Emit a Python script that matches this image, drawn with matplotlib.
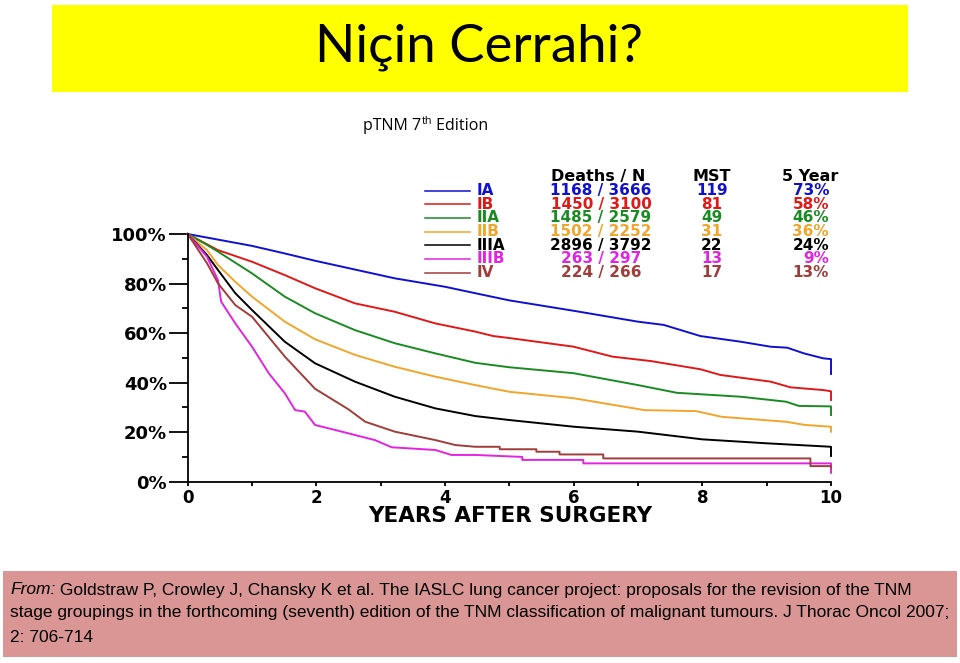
import numpy as np
import matplotlib.pyplot as plt
from matplotlib import font_manager
from matplotlib.patches import Rectangle
from matplotlib.lines import Line2D

W, H = 960, 663

# survival curves (years, % surviving)
ia_t = [0, 0.5, 1, 1.5, 1.98, 3.22, 4, 4.47, 5, 6, 7, 7.4, 7.97, 8.6, 9.06, 9.32, 9.58, 9.88, 10, 10]
ia_s = [100, 97.6, 95.2, 92.2, 89.2, 82.1, 78.7, 76.1, 73.2, 69.0, 64.6, 63.3, 58.8, 56.5, 54.5, 54.1, 51.8, 49.8, 49.5, 43.5]

ib_t = [0, 0.47, 1, 1.51, 1.98, 2.6, 3.22, 3.85, 4.47, 4.75, 5, 6, 6.6, 7.2, 7.97, 8.28, 9.06, 9.37, 9.88, 10, 10]
ib_s = [100, 93.5, 88.8, 83.4, 78.1, 72.0, 68.6, 63.9, 60.6, 58.8, 58, 54.5, 50.5, 48.7, 45.4, 43.1, 40.4, 38.1, 37, 36.5, 33]

iia_t = [0, 0.3, 0.47, 1, 1.51, 1.98, 2.6, 3.22, 3.85, 4.47, 5, 6, 7, 7.6, 8.6, 9.3, 9.5, 10, 10]
iia_s = [100, 95.6, 92.9, 84.1, 74.7, 68.0, 61.2, 55.9, 51.8, 48.0, 46.2, 43.8, 39, 35.9, 34.3, 32.3, 30.6, 30.4, 26.9]

iib_t = [0, 0.3, 0.47, 0.74, 1, 1.51, 1.98, 2.6, 3.22, 3.85, 4.47, 5, 6, 7.1, 7.9, 8.3, 9.3, 9.6, 10, 10]
iib_s = [100, 93.5, 87.5, 80.7, 74.7, 64.6, 57.5, 51.2, 46.4, 42.4, 39.0, 36.3, 33.7, 28.9, 28.5, 26.2, 24.2, 22.9, 22.2, 20.2]

iiia_t = [0, 0.3, 0.47, 0.74, 1, 1.51, 1.98, 2.6, 3.22, 3.85, 4.47, 5, 6, 7, 8, 9, 10, 10]
iiia_s = [100, 91.5, 85.5, 76.1, 69.3, 56.5, 47.8, 40.4, 34.3, 29.6, 26.5, 24.9, 22.2, 20.2, 17.1, 15.5, 14.1, 10.4]

iiib_t = [0, 0.3, 0.47, 0.52, 0.74, 1, 1.26, 1.51, 1.67, 1.82, 1.98, 2.29, 2.91, 3.17, 3.85, 4.1, 4.47,
          5.2, 5.2, 6.15, 6.15, 10, 10]
iiib_s = [100, 90.8, 81.4, 72.7, 63.9, 54.5, 43.8, 35.7, 28.9, 28.3, 22.9, 20.9, 16.8, 13.9, 12.8, 10.8, 10.8,
          10.0, 8.8, 8.8, 7.4, 7.4, 3.6]

iv_t = [0, 0.3, 0.47, 0.74, 1, 1.51, 1.98, 2.5, 2.76, 3.22, 3.85, 4.16, 4.47, 4.85, 4.85, 5.42, 5.42,
        5.78, 5.78, 6.46, 6.46, 9.68, 9.68, 10, 10]
iv_s = [100, 88.2, 80.1, 71.3, 66.6, 50.5, 37.5, 29.2, 24.2, 20.2, 16.8, 14.8, 14.1, 14.1, 13.1, 13.1, 12.1,
        12.1, 11.0, 11.0, 9.4, 9.4, 6.3, 6.3, 5.8]

stages = ['IA', 'IB', 'IIA', 'IIB', 'IIIA', 'IIIB', 'IV']
deaths_n = ['1168 / 3666', '1450 / 3100', '1485 / 2579', '1502 / 2252', '2896 / 3792', '263 / 297', '224 / 266']
mst = ['119', '81', '49', '31', '22', '13', '17']
five_year = ['73%', '58%', '46%', '36%', '24%', '9%', '13%']
colors = ['#1010d0', '#e01818', '#1a8a22', '#f2a52a', '#000000', '#e224e2', '#a23c3a']
curves = [(ia_t, ia_s), (ib_t, ib_s), (iia_t, iia_s), (iib_t, iib_s),
          (iiia_t, iiia_s), (iiib_t, iiib_s), (iv_t, iv_s)]

footer1 = ' Goldstraw P, Crowley J, Chansky K et al. The IASLC lung cancer project: proposals for the revision of the TNM'
footer2 = 'stage groupings in the forthcoming (seventh) edition of the TNM classification of malignant tumours. J Thorac Oncol 2007;'
footer3 = '2: 706-714'


def fx(x):
    return x / W


def fy(y):
    return 1 - y / H


fig = plt.figure(figsize=(9.6, 6.63), dpi=100)
fig.patch.set_facecolor('white')
r = fig.canvas.get_renderer()

# yellow title banner
fig.patches.append(Rectangle((fx(52), fy(92)), fx(908) - fx(52), fy(5) - fy(92),
                             transform=fig.transFigure, facecolor='#ffff00', edgecolor='none'))
fig.text(fx(479), fy(47), 'Niçin Cerrahi?', fontsize=38, family='Lato', ha='center', va='center')

# subtitle with superscript
t1 = fig.text(fx(363), fy(126), 'pTNM 7', fontsize=11.5, family='Open Sans', ha='left', va='center')
bb = t1.get_window_extent(r)
t2 = fig.text(bb.x1 / W + 0.0005, fy(122), 'th', fontsize=7.8, family='Open Sans', ha='left', va='center')
bb2 = t2.get_window_extent(r)
fig.text(bb2.x1 / W, fy(126), ' Edition', fontsize=11.5, family='Open Sans', ha='left', va='center')

# survival plot
ax = fig.add_axes([fx(187.7), fy(481.7), fx(831) - fx(187.7), fy(234) - fy(481.7)])
for (t, s), c in zip(curves, colors):
    ax.plot(t, s, color=c, lw=1.4, clip_on=False)

ax.set_xlim(0, 10)
ax.set_ylim(0, 100)
ax.spines['top'].set_visible(False)
ax.spines['right'].set_visible(False)
ax.spines['left'].set_linewidth(1.3)
ax.spines['bottom'].set_linewidth(1.3)
ax.set_xticks(np.arange(0, 11, 2))
ax.set_xticks(np.arange(0, 11, 1), minor=True)
ax.set_yticks(np.arange(0, 101, 20))
ax.set_yticks(np.arange(0, 101, 10), minor=True)
ax.set_yticklabels(['%d%%' % v for v in range(0, 101, 20)])
ax.tick_params(axis='y', which='major', length=14, width=1.3, pad=1)
ax.tick_params(axis='y', which='minor', length=4.5, width=1.3)
ax.tick_params(axis='x', which='both', length=3, width=1.3, pad=2)
for lab in ax.get_xticklabels():
    lab.set_fontfamily('DejaVu Sans')
    lab.set_fontweight('bold')
    lab.set_fontsize(12)
for lab in ax.get_yticklabels():
    lab.set_fontfamily('DejaVu Sans')
    lab.set_fontweight('bold')
    lab.set_fontsize(13)
ax.set_xlabel('YEARS AFTER SURGERY', fontsize=15.5, fontweight='bold', family='DejaVu Sans', labelpad=1)
ax.xaxis.set_label_coords(0.502, -0.1)

# legend table
hdr_y = 177
fig.text(fx(598), fy(hdr_y), 'Deaths / N', fontsize=11.5, fontweight='bold', ha='center', va='center')
fig.text(fx(712), fy(hdr_y), 'MST', fontsize=11.5, fontweight='bold', ha='center', va='center')
fig.text(fx(838), fy(hdr_y), '5 Year', fontsize=11.5, fontweight='bold', ha='right', va='center')
for i, stg in enumerate(stages):
    y = 190.5 + i * 13.7
    fig.lines.append(Line2D([fx(425), fx(470)], [fy(y), fy(y)], transform=fig.transFigure,
                            color=colors[i], lw=1.1))
    kw = dict(fontsize=11, fontweight='bold', color=colors[i], va='center')
    fig.text(fx(477), fy(y), stg, ha='left', **kw)
    fig.text(fx(601), fy(y), deaths_n[i], ha='center', **kw)
    fig.text(fx(712), fy(y), mst[i], ha='center', **kw)
    fig.text(fx(829), fy(y), five_year[i], ha='right', **kw)

# slide number, mostly hidden behind footer
fig.text(fx(894), fy(650), '6', fontsize=13, color='#8a8a8a', ha='center', va='center', zorder=0)

# footer citation box
fig.patches.append(Rectangle((fx(3), fy(657)), fx(957) - fx(3), fy(571) - fy(657),
                             transform=fig.transFigure, facecolor='#d99694', edgecolor='none', zorder=1))
installed = {f.name for f in font_manager.fontManager.ttflist}
fnt = 'Liberation Sans Narrow' if 'Liberation Sans Narrow' in installed else 'Liberation Sans'
probe = fig.text(0, 0, footer2, fontsize=12, family=fnt)
fsz = 12 * 936 / probe.get_window_extent(r).width
probe.remove()
f1 = fig.text(fx(10), fy(590), 'From:', fontsize=fsz, family=fnt, style='italic', ha='left', va='center', zorder=2)
bbf = f1.get_window_extent(r)
fig.text(bbf.x1 / W, fy(590), footer1, fontsize=fsz, family=fnt, ha='left', va='center', zorder=2)
fig.text(fx(10), fy(613), footer2, fontsize=fsz, family=fnt, ha='left', va='center', zorder=2)
fig.text(fx(10), fy(637), footer3, fontsize=fsz, family=fnt, ha='left', va='center', zorder=2)

fig.savefig('out.png', dpi=100)
